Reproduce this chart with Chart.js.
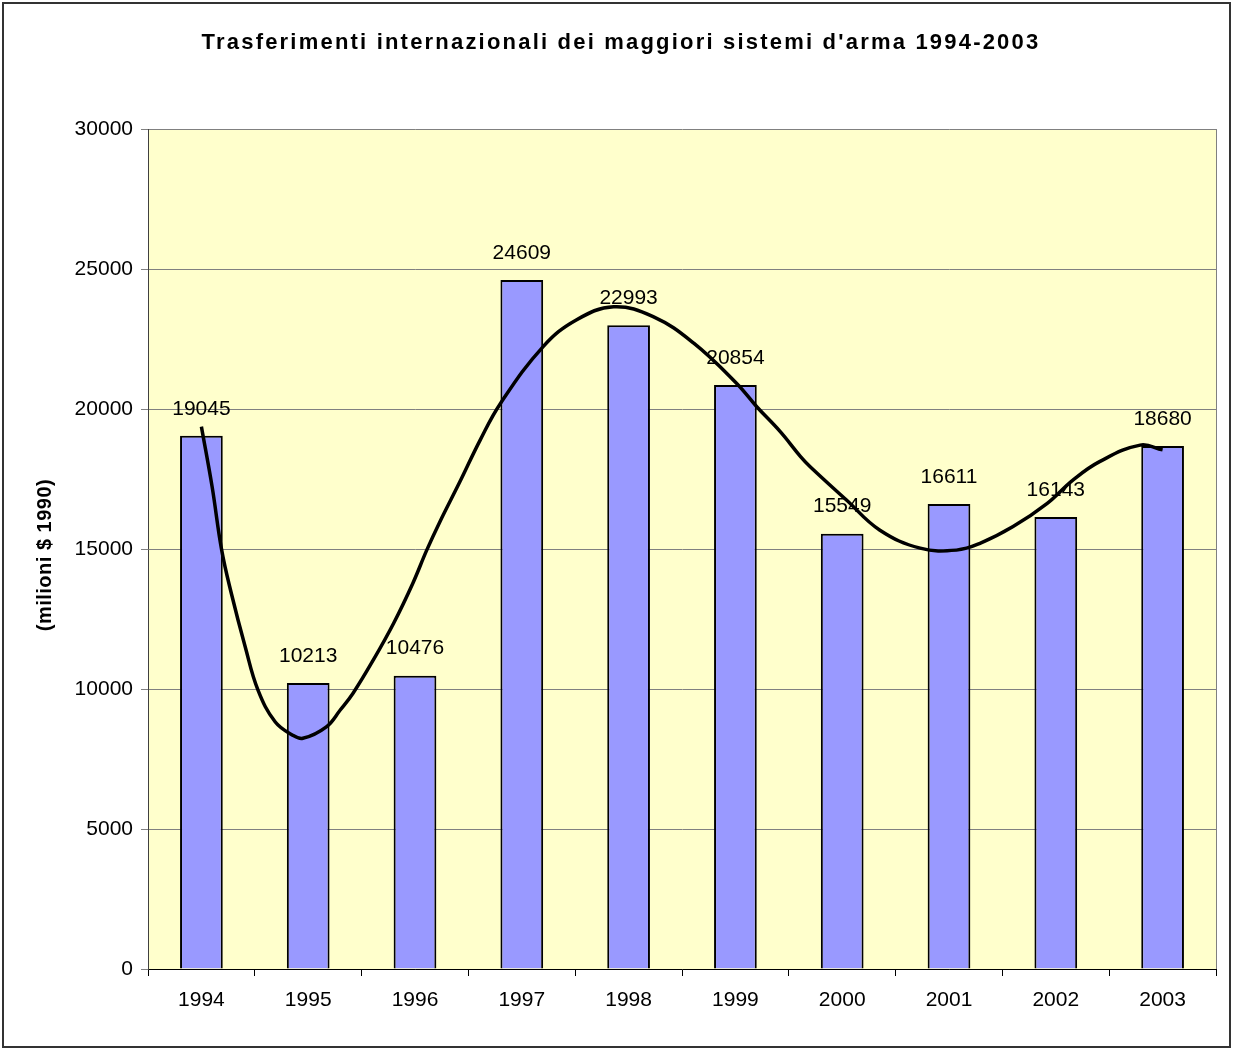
<!DOCTYPE html>
<html lang="it">
<head>
<meta charset="UTF-8">
<title>Trasferimenti internazionali dei maggiori sistemi d'arma 1994-2003</title>
<script src="https://cdn.jsdelivr.net/npm/chart.js"></script>
<style>
    body { margin: 0; background: #fff; }
    #wrap { width: 1234px; height: 1050px; }
</style>
</head>
<body>
<div id="wrap"><canvas id="chart" width="1234" height="1050"></canvas></div>
<script>
// values
const years = ['1994', '1995', '1996', '1997', '1998', '1999', '2000', '2001', '2002', '2003'];
const transfers = [19045, 10213, 10476, 24609, 22993, 20854, 15549, 16611, 16143, 18680];
const yTicks = [0, 5000, 10000, 15000, 20000, 25000, 30000];

// trend line (x = category index)
const trendX = [0.00, 0.10, 0.19, 0.28, 0.41, 0.53, 0.69, 0.85, 0.95, 1.17, 1.30, 1.42, 1.61, 1.80, 1.98,
    2.11, 2.23, 2.42, 2.61, 2.80, 3.20, 3.51, 3.86, 4.23, 4.61, 5.01, 5.20, 5.42, 5.61, 5.70, 6.04,
    6.35, 6.73, 7.07, 7.29, 7.60, 7.92, 8.16, 8.41, 8.79, 9.00];
const trendY = [19370, 17230, 14960, 13420, 11510, 9960, 8830, 8360, 8240, 8650, 9250, 9850, 11040, 12350, 13780,
    14960, 15950, 17400, 18890, 20200, 22230, 23180, 23650, 23300, 22350, 20920, 20080, 19190, 18300, 17940, 16750,
    15680, 15030, 14960, 15200, 15800, 16630, 17460, 18120, 18710, 18540];

const titleText = "Trasferimenti internazionali dei maggiori sistemi d'arma 1994-2003";
const yTitleText = '(milioni $ 1990)';
const FONT = '"Liberation Sans", Arial, sans-serif';

const decorations = {
    id: 'decorations',
    beforeDraw(chart) {
        const { ctx, chartArea: a } = chart;
        ctx.save();
        ctx.fillStyle = '#ffffff';
        ctx.fillRect(0, 0, chart.width, chart.height);
        ctx.fillStyle = '#FFFFCC';
        ctx.fillRect(a.left, a.top, a.right - a.left, a.bottom - a.top);
        ctx.restore();
    },
    afterDatasetsDraw(chart) {
        const { ctx, chartArea: a } = chart;
        ctx.save();
        // plot frame right side
        ctx.strokeStyle = '#808080';
        ctx.lineWidth = 1;
        ctx.beginPath();
        ctx.moveTo(a.right + 0.5, a.top);
        ctx.lineTo(a.right + 0.5, a.bottom);
        ctx.stroke();

        // value labels over the bars
        const meta = chart.getDatasetMeta(0);
        ctx.fillStyle = '#000';
        ctx.font = '21px ' + FONT;
        ctx.textAlign = 'center';
        ctx.textBaseline = 'middle';
        meta.data.forEach((bar, i) => {
            ctx.fillText(String(transfers[i]), bar.x, bar.y - 27);
        });
        ctx.restore();
    },
    afterDraw(chart) {
        const { ctx } = chart;
        ctx.save();
        ctx.fillStyle = '#000';
        ctx.textAlign = 'center';
        ctx.textBaseline = 'middle';
        ctx.font = 'bold 22px ' + FONT;
        ctx.letterSpacing = '2.2px';
        ctx.fillText(titleText, 621, 43);

        ctx.font = 'bold 20px ' + FONT;
        ctx.letterSpacing = '0.5px';
        ctx.translate(45, 555);
        ctx.rotate(-Math.PI / 2);
        ctx.fillText(yTitleText, 0, 0);
        ctx.restore();

        // outer chart border
        ctx.save();
        ctx.strokeStyle = '#333';
        ctx.lineWidth = 2;
        ctx.strokeRect(3, 3, 1227, 1044);
        ctx.restore();
    }
};

new Chart(document.getElementById('chart'), {
    data: {
        labels: years,
        datasets: [{
            type: 'bar',
            data: transfers,
            xAxisID: 'x',
            yAxisID: 'y',
            grouped: false,
            backgroundColor: '#9999FF',
            borderColor: '#000',
            borderWidth: 2,
            barPercentage: 0.4,
            categoryPercentage: 1,
            order: 2
        }, {
            type: 'line',
            data: trendX.map((x, i) => ({ x: x, y: trendY[i] })),
            xAxisID: 'x2',
            yAxisID: 'y',
            borderColor: '#000',
            borderWidth: 3.5,
            pointRadius: 0,
            tension: 0.4,
            order: 1
        }]
    },
    options: {
        responsive: false,
        animation: false,
        devicePixelRatio: 1,
        layout: { padding: { top: 129, right: 18, bottom: 0, left: 0 } },
        plugins: {
            legend: { display: false },
            tooltip: { enabled: false }
        },
        scales: {
            x: {
                type: 'category',
                offset: true,
                grid: { offset: true, drawOnChartArea: false, drawTicks: true, tickLength: 7, color: '#000' },
                border: { color: '#000', width: 1 },
                ticks: { color: '#000', font: { size: 21, family: FONT }, padding: 12, maxRotation: 0 },
                afterFit(s) { s.height = 81; }
            },
            x2: {
                type: 'linear',
                display: false,
                min: -0.5,
                max: 9.5
            },
            y: {
                min: 0,
                max: 30000,
                grid: { color: '#808080', tickLength: 7 },
                border: { color: '#404040', width: 1 },
                afterBuildTicks(s) { s.ticks = yTicks.map(v => ({ value: v })); },
                ticks: { color: '#000', font: { size: 21, family: FONT }, padding: 8, callback: v => String(v) },
                afterFit(s) { s.width = 148; }
            }
        }
    },
    plugins: [decorations]
});
</script>
</body>
</html>
